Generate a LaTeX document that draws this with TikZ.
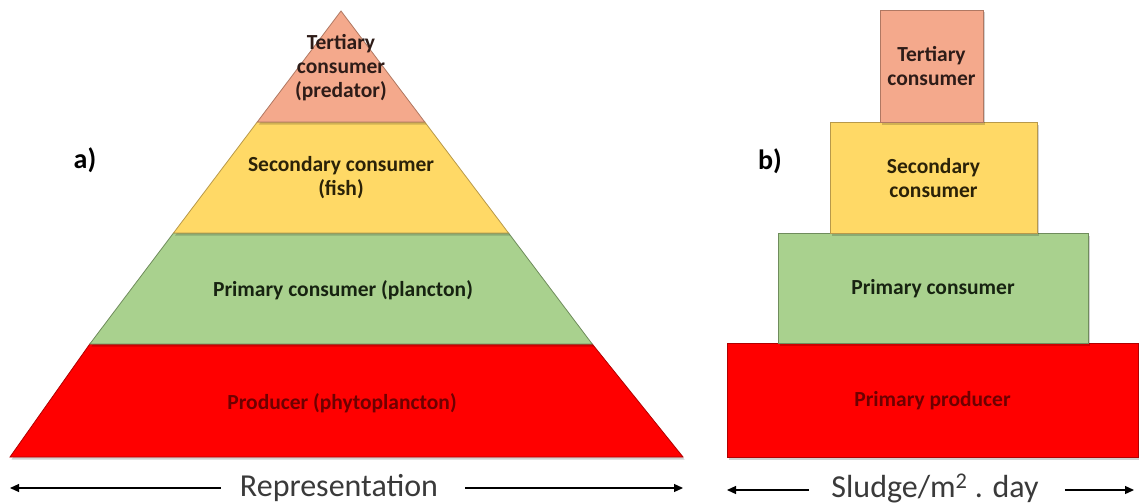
\documentclass[tikz,border=0pt]{standalone}
\usepackage{fontspec}
\setmainfont{Carlito}
\usetikzlibrary{arrows.meta,shadows}

\definecolor{tertfill}{HTML}{F4A98C}
\definecolor{tertline}{HTML}{B07862}
\definecolor{terttext}{HTML}{2E1C18}
\definecolor{secfill}{HTML}{FFD966}
\definecolor{secline}{HTML}{B8994A}
\definecolor{sectext}{HTML}{2B2208}
\definecolor{primfill}{HTML}{A9D18E}
\definecolor{primline}{HTML}{6F8C5C}
\definecolor{primtext}{HTML}{172311}
\definecolor{prodfill}{HTML}{FF0000}
\definecolor{prodline}{HTML}{B00000}
\definecolor{prodtext}{HTML}{6E0000}
\definecolor{axistext}{HTML}{3A3A3A}

\tikzset{
  layer/.style={line width=0.8pt, line join=miter,
    drop shadow={shadow xshift=1.5pt, shadow yshift=-2.5pt, opacity=0.18, fill=black}},
  lbl/.style={font=\fontsize{21.5}{24}\selectfont\bfseries, align=center, inner sep=0pt},
  axislbl/.style={font=\fontsize{32}{36}\selectfont, text=axistext, inner sep=0pt},
  tag/.style={font=\fontsize{28}{30}\selectfont\bfseries, inner sep=0pt},
  axisarrow/.style={line width=1.2pt, -{Triangle[length=9pt,width=8pt]}}
}

\begin{document}
\begin{tikzpicture}[x=1pt,y=-1pt]
  \useasboundingbox (0,0) rectangle (1139,503);

  % ---- a) pyramid of numbers ----
  \coordinate (apex) at (341,11);
  \coordinate (t1l) at (257.25,122); \coordinate (t1r) at (424.75,122);
  \coordinate (t2l) at (173.5,233);  \coordinate (t2r) at (508.5,233);
  \coordinate (t3l) at (89.8,344);   \coordinate (t3r) at (592.2,344);
  \coordinate (bl)  at (10,457);     \coordinate (br)  at (683,457);

  \draw[layer, fill=prodfill, draw=prodline] (t3l) -- (t3r) -- (br) -- (bl) -- cycle;
  \draw[layer, fill=primfill, draw=primline] (t2l) -- (t2r) -- (t3r) -- (t3l) -- cycle;
  \draw[layer, fill=secfill, draw=secline] (t1l) -- (t1r) -- (t2r) -- (t2l) -- cycle;
  \draw[layer, fill=tertfill, draw=tertline] (apex) -- (t1r) -- (t1l) -- cycle;

  \node[lbl, text=terttext] (pTert) at (341,68) {Tertiary\\consumer\\(predator)};
  \node[lbl, text=sectext]  (pSec)  at (341,178) {Secondary consumer\\(fish)};
  \node[lbl, text=primtext] (pPrim) at (343,290) {Primary consumer (plancton)};
  \node[lbl, text=prodtext] (pProd) at (342,403) {Producer (phytoplancton)};

  \node[tag] (tagA) at (85,160) {a)};

  % ---- b) pyramid of productivity ----
  \draw[layer, fill=prodfill, draw=prodline] (727,343) rectangle (1138,457);
  \draw[layer, fill=primfill, draw=primline] (778,233) rectangle (1088,343);
  \draw[layer, fill=secfill, draw=secline] (830,122) rectangle (1037,233);
  \draw[layer, fill=tertfill, draw=tertline] (880,10) rectangle (983,122);

  \node[lbl, text=terttext] (bTert) at (931.5,66) {Tertiary\\consumer};
  \node[lbl, text=sectext]  (bSec)  at (933.5,178) {Secondary\\consumer};
  \node[lbl, text=primtext] (bPrim) at (933,289) {Primary consumer};
  \node[lbl, text=prodtext] (bProd) at (932.5,401) {Primary producer};

  \node[tag] (tagB) at (770,161) {b)};

  % ---- axes ----
  \node[axislbl] (repr) at (339,488) {Representation};
  \coordinate (reprL) at (10,488);
  \coordinate (reprR) at (683,488);
  \draw[axisarrow] ([xshift=-19pt]repr.west) -- (reprL);
  \draw[axisarrow] ([xshift=27pt]repr.east) -- (reprR);

  \node[axislbl] (sludge) at (935,488) {Sludge/m\textsuperscript{2} . day};
  \coordinate (sludgeL) at (727,490);
  \coordinate (sludgeR) at (1134,490);
  \draw[axisarrow] ([xshift=-22pt,yshift=-2pt]sludge.west) -- (sludgeL);
  \draw[axisarrow] ([xshift=26pt,yshift=-2pt]sludge.east) -- (sludgeR);
\end{tikzpicture}
\end{document}
